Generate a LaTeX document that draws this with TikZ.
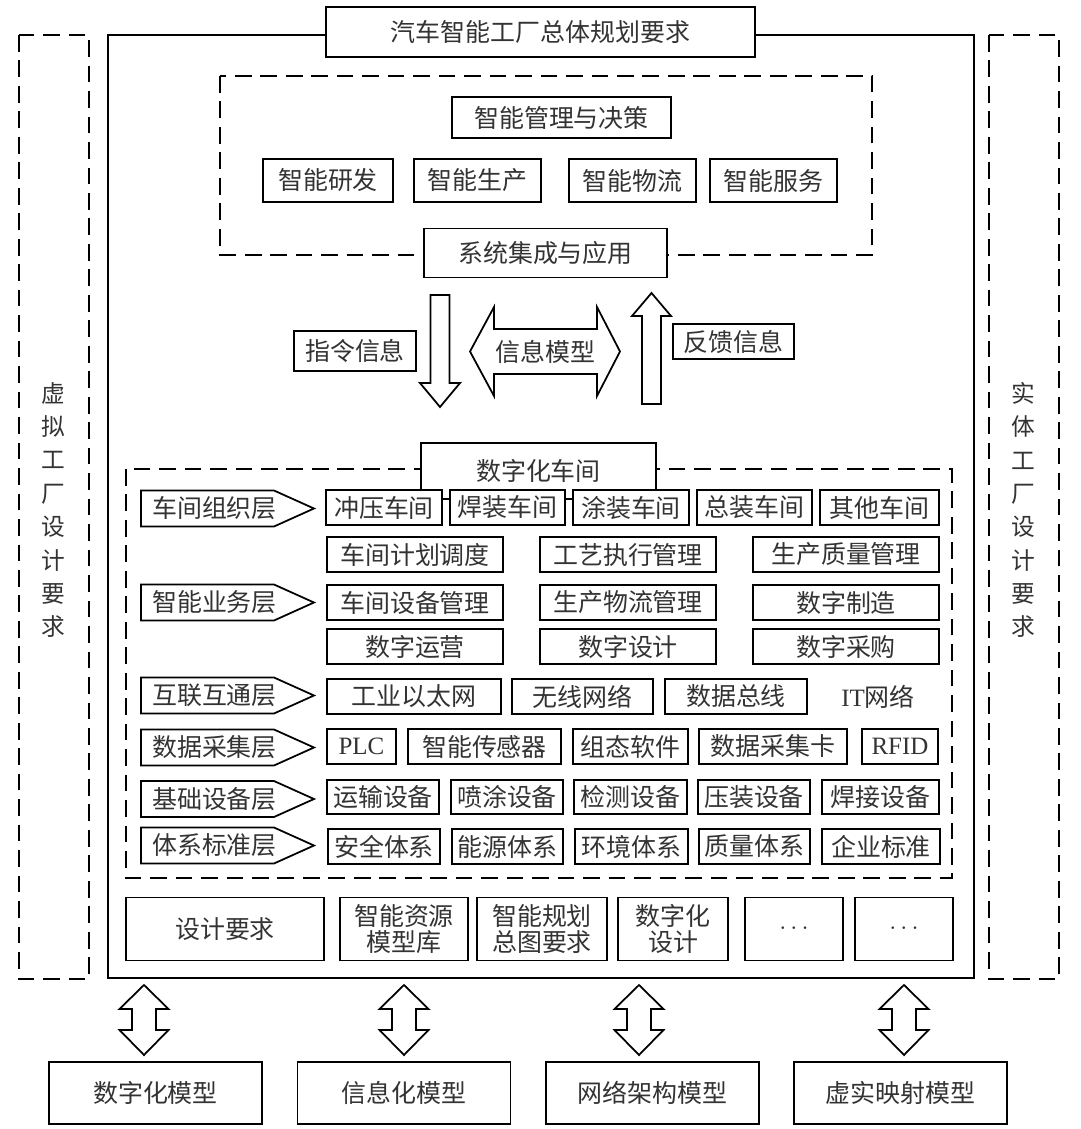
\documentclass[tikz,border=0pt]{standalone}
\usepackage{fontspec}
\setmainfont{Liberation Serif}
\newfontfamily\cjk{Noto Sans CJK SC}
\usepackage{tikz}
\usetikzlibrary{positioning, calc}
\definecolor{InkGray}{HTML}{333333}
\newcommand{\latin}[1]{{\rmfamily #1}}
\tikzset{
  box/.style={draw=black, line width=1pt, fill=white, inner sep=0pt, outer sep=0pt,
              align=center, text=InkGray, font=\cjk\fontsize{14.2pt}{15pt}\selectfont},
  wh/.style 2 args={minimum width=#1*0.02cm, minimum height=#2*0.02cm},
  dashbox/.style={draw=black, line width=1pt, dash pattern=on 9.5pt off 5pt},
  outerframe/.style={draw=black, line width=1.1pt},
  layer/.style={box, draw=none, fill=none, wh={147}{36}},
  bigarrow/.style={draw=black, line width=1pt, fill=white, line join=miter},
  vtext/.style={text=InkGray, align=center, font=\cjk\fontsize{13.5pt}{19pt}\selectfont}
}

\begin{document}
\begin{tikzpicture}[x=0.02cm, y=-0.02cm]
    \fill[white] (0,0) rectangle (1080,1129);
    \useasboundingbox (0,0) rectangle (1080,1129);

    % virtual / physical factory columns
    \draw[dashbox] (19,35) rectangle (89,979);
    \draw[dashbox] (989,35) rectangle (1059,979);
    \node[vtext] (virt) at (53,510) {虚\\拟\\工\\厂\\设\\计\\要\\求};
    \node[vtext] (real) at (1023,510) {实\\体\\工\\厂\\设\\计\\要\\求};

    % overall planning frame
    \draw[outerframe] (108,35) rectangle (974,978);
    \node[box, wh={429}{50}] (plan) at (540.5,32) {汽车智能工厂总体规划要求};

    % system integration block
    \draw[dashbox] (220,76) rectangle (872,255);
    \node[box, wh={219}{41}] (mgmt) at (561.5,117.5) {智能管理与决策};
    \foreach \n/\x/\w/\t in {rd/328/130/智能研发, prod/477.5/127/智能生产,
                             logi/632.5/127/智能物流, serv/773.5/127/智能服务}
        \node[box, wh={\w}{43}] (\n) at (\x,180.5) {\t};
    \node[box, wh={243}{49}] (integ) at (545.5,253) {系统集成与应用};

    % information exchange
    \node[box, wh={122}{40}] (cmd) at (355,351) {指令信息};
    \node[box, wh={121}{35}] (fb) at (733.5,341.5) {反馈信息};
    \draw[bigarrow] (430.5,295) -- (449.5,295) -- (449.5,383) -- (460,383) -- (440,407)
                    -- (420,383) -- (430.5,383) -- cycle;
    \draw[bigarrow] (642,404) -- (642,316) -- (632,316) -- (651.5,293) -- (671,316)
                    -- (661,316) -- (661,404) -- cycle;
    \draw[bigarrow] (470,351.5) -- (494,307) -- (494,329) -- (597,329) -- (597,307)
                    -- (620,351.5) -- (597,396) -- (597,374) -- (494,374) -- (494,396) -- cycle;
    \node[box, draw=none, fill=none] (infomod) at (545.5,351.5) {信息模型};

    % digital workshop
    \draw[dashbox] (126,469) rectangle (952,878);
    \node[box, wh={235}{56}] (shop) at (538.5,471) {数字化车间};

    % layer labels
    \foreach \n/\y/\t in {lay1/508.5/车间组织层, lay2/602.5/智能业务层, lay3/695.5/互联互通层,
                          lay4/747.5/数据采集层, lay5/799/基础设备层, lay6/845.5/体系标准层} {
        \node[layer] (\n) at (214.5,\y) {\t};
        \draw[line width=1pt, line join=miter] (\n.north west) -- ($(\n.north east)+(-14,0)$)
            -- ($(\n.east)+(26,0)$) -- ($(\n.south east)+(-14,0)$) -- (\n.south west) -- cycle;
    }

    % workshop organisation
    \foreach \x/\w/\t [count=\i] in {384/116/冲压车间, 507.5/115/焊装车间, 631/116/涂装车间,
                                     754.5/115/总装车间, 879.5/119/其他车间}
        \node[box, wh={\w}{35}] (ws\i) at (\x,507.5) {\t};

    % intelligent business
    \foreach \x/\w/\t [count=\i] in {415/176/车间计划调度, 628/176/工艺执行管理, 846/186/生产质量管理}
        \node[box, wh={\w}{35}] (bizA\i) at (\x,554.5) {\t};
    \foreach \x/\w/\t [count=\i] in {415/176/车间设备管理, 628/176/生产物流管理, 846/186/数字制造}
        \node[box, wh={\w}{35}] (bizB\i) at (\x,602.5) {\t};
    \foreach \x/\w/\t [count=\i] in {415/176/数字运营, 628/176/数字设计, 846/186/数字采购}
        \node[box, wh={\w}{35}] (bizC\i) at (\x,646.5) {\t};

    % interconnection
    \foreach \x/\w/\t [count=\i] in {414/174/工业以太网, 582.5/141/无线网络, 736/142/数据总线}
        \node[box, wh={\w}{35}] (net\i) at (\x,696.5) {\t};
    \node[box, draw=none, fill=none] (itnet) at (878,696.5) {\latin{IT}网络};

    % data acquisition
    \foreach \x/\w/\t [count=\i] in {361.5/69/\latin{PLC}, 484.5/153/智能传感器, 630.5/115/组态软件,
                                     773/148/数据采集卡, 900/76/\latin{RFID}}
        \node[box, wh={\w}{35}] (daq\i) at (\x,746.5) {\t};

    % basic equipment
    \foreach \x/\w/\t [count=\i] in {383/112/运输设备, 507/112/喷涂设备, 630.5/113/检测设备,
                                     754/112/压装设备, 880.5/117/焊接设备}
        \node[box, wh={\w}{34}] (eq\i) at (\x,797) {\t};

    % standards
    \foreach \x/\w/\t [count=\i] in {384/112/安全体系, 507.5/111/能源体系, 631.5/113/环境体系,
                                     754.5/111/质量体系, 881/118/企业标准}
        \node[box, wh={\w}{35}] (std\i) at (\x,846.5) {\t};

    % design requirements
    \foreach \x/\w/\t [count=\i] in {225/198/设计要求, 404/128/智能资源\\模型库, 542/130/智能规划\\总图要求,
                                     673/110/数字化\\设计, 794/98/$\cdots$, 904/98/$\cdots$}
        \node[box, wh={\w}{63}] (req\i) at (\x,929) {\t};

    % model arrows
    \foreach \x in {144,404,639,904}
        \draw[bigarrow] (\x,985) -- ++(24.5,24) -- ++(-12.5,0) -- ++(0,21) -- ++(12.5,0)
            -- ++(-24.5,25) -- ++(-24.5,-25) -- ++(12.5,0) -- ++(0,-21) -- ++(-12.5,0) -- cycle;

    % models
    \foreach \x/\t [count=\i] in {155.5/数字化模型, 404/信息化模型, 652.5/网络架构模型, 900.5/虚实映射模型}
        \node[box, wh={213}{62}] (mod\i) at (\x,1093) {\t};
\end{tikzpicture}
\end{document}
